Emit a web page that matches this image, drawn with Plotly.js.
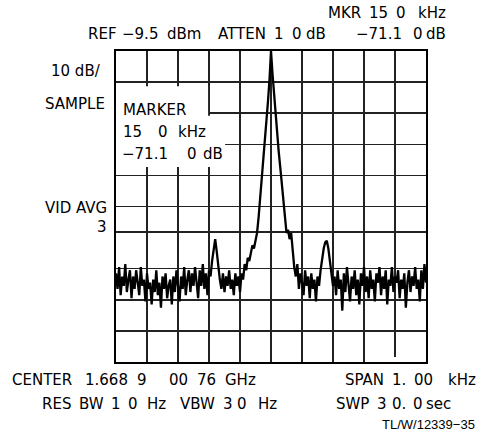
<!DOCTYPE html>
<html><head><meta charset="utf-8">
<script src="https://cdn.plot.ly/plotly-3.0.1.min.js"></script>
<style>html,body{margin:0;padding:0;background:#fff}</style>
</head><body>
<div id="chart" style="width:491px;height:433px"></div>
<script>
// Sweep: frequency offset from centre (Hz), 5 Hz per point, span 1.00 kHz
const freqStartHz = -500;
const freqStepHz = 5;
const levelDbm = [
  -81,-86,-79,-88,-82,-85,-78,-87,-83,-80,   // -500 .. -455
  -89,-82,-86,-80,-84,-88,-79,-85,-83,-90,   // -450 .. -405
  -81,-86,-84,-91,-83,-87,-80,-88,-84,-92,   // -400 .. -355
  -82,-86,-81,-89,-85,-83,-91,-82,-87,-80,   // -350 .. -305
  -85,-90,-82,-86,-79,-88,-83,-80,-87,-81,   // -300 .. -255
  -85,-79,-84,-89,-80,-85,-78,-86,-81,-88,   // -250 .. -205
  -80,-82,-77,-73,-70,-74,-79,-83,-86,-81,   // -200 .. -155
  -87,-82,-85,-80,-86,-83,-88,-81,-85,-82,   // -150 .. -105
  -87,-81,-83,-78,-80,-76,-77,-74,-72,-73,   // -100 .. -55
  -70,-68,-63,-57,-51,-46,-40,-33,-26,-19,   //  -50 .. -5
  -9.5,-17,-24,-30,-36,-42,-47,-52,-58,-64,  //    0 .. 45
  -68,-67,-70,-68,-74,-79,-82,-78,-86,-81,   //   50 .. 95
  -84,-88,-80,-85,-82,-89,-81,-86,-83,-90,   //  100 .. 145
  -82,-85,-80,-76,-73,-71,-70.5,-73,-77,-81, //  150 .. 195
  -85,-82,-88,-80,-86,-83,-93,-81,-87,-79,   //  200 .. 245
  -85,-90,-82,-86,-80,-88,-83,-91,-81,-85,   //  250 .. 295
  -79,-87,-82,-89,-80,-86,-83,-90,-81,-84,   //  300 .. 345
  -79,-88,-82,-86,-80,-91,-83,-85,-79,-87,   //  350 .. 395
  -82,-84,-80,-89,-83,-86,-81,-92,-84,-80,   //  400 .. 445
  -87,-82,-85,-79,-86,-83,-90,-80,-86,-78,   //  450 .. 495
  -84                                         //  500
];
const refLevelDbm = -9.5;
const spanHz = 1000;
const divisions = 10;
const gridFreqHz = [-400,-300,-200,-100,0,100,200,300,400];
const gridLevelDbm = [-19.5,-29.5,-39.5,-49.5,-59.5,-67.7,-79.5,-89.5,-99.5];

// Instrument read-out texts, split into the groups printed by the plotter
const headerTokens = ["MKR", "15", "0", "kHz", "REF", "\u22129.5", "dBm", "ATTEN", "1", "0", "dB", "\u221271.1", "0", "dB"];
const sideTokens = ["10\u00a0dB/", "SAMPLE", "VID AVG", "3"];
const markerTokens = ["MARKER", "15", "0", "kHz", "\u221271.1", "0", "dB"];
const footerTokens = ["CENTER", "1.668", "9", "00", "76", "GHz", "SPAN", "1.", "00", "kHz",
  "RES", "BW", "1", "0", "Hz", "VBW", "3", "0", "Hz", "SWP", "3", "0.", "0", "sec"];
const figureId = "TL/W/12339\u221235";

// layout geometry (pixels)
const W = 491, H = 433, L = 116, T = 51, PW = 310, PH = 311;
const fx = px => (px - L) / PW;
const fy = py => (T + PH - py) / PH;
const FONT = "DejaVu Sans, sans-serif";
function ann(text, px, py, anchor, size, family) {
  return {text: text, xref: 'paper', yref: 'paper', x: fx(px), y: fy(py),
    xanchor: anchor, yanchor: 'middle', showarrow: false, borderpad: 0,
    font: {family: family || FONT, size: size || 15, color: '#000'}};
}
// left edges / rows of each token (pixels)
const headerPos = [[327,13],[368,13],[395,13],[417,13],[87,34],[121,34],[166,34],[217,34],[273,34],[291,34],[305,34],[355,34],[412,34],[425,34]];
const markerPos = [[122,110],[122,132],[157,132],[177,132],[121,154],[186,154],[202,154]];
const footerPos = [[11,380],[84,380],[136,380],[168,380],[196,380],[224,380],[344,380],[391,380],[413,380],[447,380],
  [41,404],[78,404],[110,404],[127,404],[146,404],[179,404],[222,404],[236,404],[257,404],[335,404],[376,404],[391,404],[412,404],[425,404]];
const annotations = [];
headerTokens.forEach((t, i) => annotations.push(ann(t, headerPos[i][0], headerPos[i][1], 'left')));
markerTokens.forEach((t, i) => annotations.push(ann(t, markerPos[i][0], markerPos[i][1], 'left')));
footerTokens.forEach((t, i) => annotations.push(ann(t, footerPos[i][0], footerPos[i][1], 'left')));
annotations.push(ann(sideTokens[0], 102, 71, 'right'));
annotations.push(ann(sideTokens[1], 106, 104, 'right'));
annotations.push(ann(sideTokens[2], 108, 208, 'right'));
annotations.push(ann(sideTokens[3], 108, 227, 'right'));
annotations.push(ann(figureId, 476, 424, 'right', 13, "Liberation Sans, Arial, sans-serif"));

const xMin = -spanHz / 2, xMax = spanHz / 2;
const yMax = refLevelDbm, yMin = refLevelDbm - 10 * divisions;
const shapes = [
  // white panel behind the marker read-out (hides grid lines there)
  {type: 'rect', layer: 'between', xref: 'x', yref: 'y', x0: xMin, x1: -203, y0: -46.8, y1: -20.8,
   fillcolor: '#fff', line: {width: 0}},
  {type: 'rect', layer: 'between', xref: 'x', yref: 'y', x0: -205, x1: -148, y0: -46.8, y1: -30.3,
   fillcolor: '#fff', line: {width: 0}},
  // short gap at the foot of one graticule line
  {type: 'rect', layer: 'between', xref: 'x', yref: 'y', x0: 396, x1: 404, y0: yMin, y1: -107.9,
   fillcolor: '#fff', line: {width: 0}}
];

const trace = {type: 'scatter', mode: 'lines', x0: freqStartHz, dx: freqStepHz, y: levelDbm,
  line: {color: '#000', width: 2.3}, hoverinfo: 'skip', showlegend: false};

const axisCommon = {showticklabels: false, ticks: '', showgrid: true, gridcolor: '#222', gridwidth: 1.5,
  zeroline: false, showline: true, mirror: true, linecolor: '#000', linewidth: 2, fixedrange: true};

const layout = {
  width: W, height: H, margin: {l: L, r: W - L - PW, t: T, b: H - T - PH},
  paper_bgcolor: '#fff', plot_bgcolor: '#fff', showlegend: false,
  xaxis: Object.assign({range: [xMin, xMax], tickvals: gridFreqHz}, axisCommon),
  yaxis: Object.assign({range: [yMin, yMax], tickvals: gridLevelDbm}, axisCommon),
  annotations: annotations, shapes: shapes
};
Plotly.newPlot('chart', [trace], layout, {staticPlot: true, displayModeBar: false});
</script>
</body></html>
